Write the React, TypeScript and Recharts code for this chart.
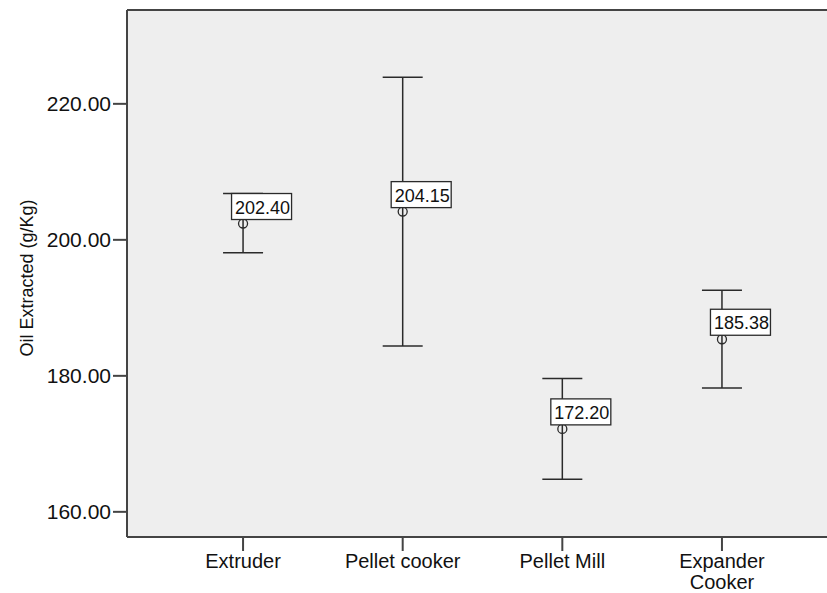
import React from "react";
import { ComposedChart, Scatter, XAxis, YAxis, ErrorBar, CartesianGrid, ReferenceLine } from "recharts";

const categories = ["Extruder", "Pellet cooker", "Pellet Mill", "Expander Cooker"];
const tickLines = [["Extruder"], ["Pellet cooker"], ["Pellet Mill"], ["Expander", "Cooker"]];
const means = [202.4, 204.15, 172.2, 185.38];
const lower = [198.1, 184.4, 164.8, 178.2];
const upper = [206.8, 223.9, 179.6, 192.6];
const yTicks = [160, 180, 200, 220];
const meanLabels = ["202.40", "204.15", "172.20", "185.38"];

const data = categories.map((c, i) => ({
  pos: i + 1,
  name: c,
  mean: means[i],
  err: [means[i] - lower[i], upper[i] - means[i]],
  label: meanLabels[i],
}));

const FONT = "'Liberation Sans', Arial, sans-serif";
const INK = "#2a2a2a";

const Marker = (props: any) => {
  const { cx, cy } = props;
  return <circle cx={cx} cy={cy} r={4.5} fill="none" stroke={INK} strokeWidth={1.3} />;
};

const LabelBox = (props: any) => {
  const { cx, cy, payload } = props;
  const x = cx - 11.5;
  const h = 26;
  const w = 60;
  const y = cy - 4 - h;
  return (
    <g>
      <rect x={x} y={y} width={w} height={h} fill="#ffffff" stroke={INK} strokeWidth={1.3} />
      <text x={x + 3.5} y={y + h / 2 + 1} fontSize={18} fontFamily={FONT} fill="#111" dominantBaseline="central">
        {payload.label}
      </text>
    </g>
  );
};

const XTick = (props: any) => {
  const { x, y, payload } = props;
  const idx = Math.round(payload.value) - 1;
  const lines = tickLines[idx] || [];
  const fs = 20;
  return (
    <g>
      {lines.map((l, i) => (
        <text key={i} x={x} y={y + 14 + i * 20.5} textAnchor="middle" fontSize={fs} fontFamily={FONT} fill="#111">
          {l}
        </text>
      ))}
    </g>
  );
};

export default function App() {
  return (
    <div style={{ position: "absolute", left: 0, top: 0, background: "#ffffff" }}>
      <ComposedChart width={827} height={593} data={data} margin={{ top: 10, right: 0, left: 0, bottom: 0 }}>
        <CartesianGrid fill="#eeeeee" horizontal={false} vertical={false} />
        <XAxis
          type="number"
          dataKey="pos"
          domain={[0.273, 4.658]}
          ticks={[1, 2, 3, 4]}
          allowDataOverflow
          height={56}
          tickSize={14}
          tickMargin={3}
          axisLine={{ stroke: "#444", strokeWidth: 2 }}
          tickLine={{ stroke: "#444", strokeWidth: 2 }}
          tick={<XTick />}
          interval={0}
        />
        <YAxis
          type="number"
          domain={[156.3, 233.8]}
          ticks={yTicks}
          allowDataOverflow
          width={127}
          tickSize={14}
          tickMargin={2}
          tickFormatter={(v: number) => v.toFixed(2)}
          axisLine={{ stroke: "#444", strokeWidth: 2 }}
          tickLine={{ stroke: "#444", strokeWidth: 2 }}
          tick={{ fontSize: 21, fontFamily: FONT, fill: "#111" }}
          label={{
            content: () => (
              <text
                x={27}
                y={278}
                transform="rotate(-90 27 278)"
                textAnchor="middle"
                dominantBaseline="central"
                fontSize={18}
                fontFamily={FONT}
                fill="#111"
              >
                Oil Extracted (g/Kg)
              </text>
            ),
          }}
        />
        <ReferenceLine y={233.8} stroke="#444" strokeWidth={2} ifOverflow="visible" />
        <Scatter dataKey="mean" shape={<Marker />} isAnimationActive={false}>
          <ErrorBar dataKey="err" direction="y" width={20} stroke={INK} strokeWidth={1.5} isAnimationActive={false} />
        </Scatter>
        <Scatter dataKey="mean" shape={<LabelBox />} isAnimationActive={false} />
      </ComposedChart>
    </div>
  );
}
